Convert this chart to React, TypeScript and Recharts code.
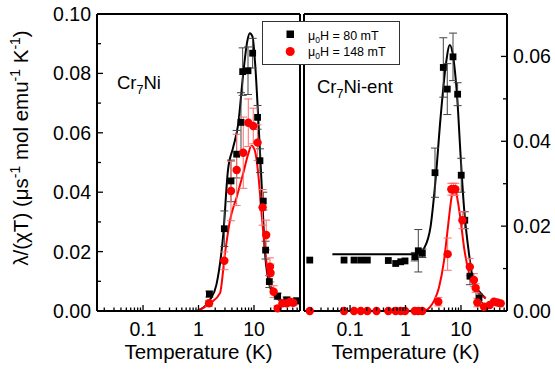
import React from 'react';
import { ComposedChart, Scatter, Line, XAxis, YAxis, ErrorBar } from 'recharts';

// ---------- axis ticks ----------
const xTicks = [0.02, 0.03, 0.04, 0.05, 0.06, 0.07, 0.08, 0.09, 0.1, 0.2, 0.3, 0.4, 0.5, 0.6, 0.7, 0.8, 0.9, 1, 2, 3, 4, 5, 6, 7, 8, 9, 10, 20, 30, 40, 50, 60];
const xLabels = [0.1, 1, 10];
const xDomain = [0.0148, 67.5];
const yTicksLeft = [0, 0.01, 0.02, 0.03, 0.04, 0.05, 0.06, 0.07, 0.08, 0.09, 0.1];
const yLabelsLeft = [0, 0.02, 0.04, 0.06, 0.08, 0.1];
const yTicksRight = [0, 0.01, 0.02, 0.03, 0.04, 0.05, 0.06, 0.07];
const yLabelsRight = [0, 0.02, 0.04, 0.06];

// ---------- Cr7Ni (left panel) ----------
const niT80 = [1.57, 2.92, 3.85, 4.87, 5.83, 6.25, 7.8, 9.46, 11.6, 12.8, 14.7, 16.2, 18.9, 26.7, 38.8, 59];
const niV80 = [0.0057, 0.0277, 0.0438, 0.0528, 0.0635, 0.0806, 0.0809, 0.0868, 0.0652, 0.0506, 0.037, 0.0205, 0.0099, 0.005, 0.0037, 0.0034];
const niE80 = [0.001, 0.006, 0.007, 0.008, 0.01, 0.008, 0.008, 0.005, 0.004, 0.004, 0.003, 0.003, 0.002, 0.001, 0.001, 0.001];

const niT148 = [1.55, 2.92, 3.85, 4.87, 6.4, 7.9, 9.7, 11.6, 14.3, 16.6, 19.4, 19.9, 22.6, 26.7, 32.6, 38.8, 44.6, 51];
const niV148 = [0.0026, 0.0169, 0.0404, 0.0475, 0.0533, 0.0634, 0.0623, 0.0567, 0.0349, 0.0256, 0.0149, 0.0128, 0.0065, 0.0009, 0.0026, 0.0026, 0.0031, 0.0028];
const niE148 = [0.001, 0.003, 0.01, 0.012, 0.012, 0.008, 0.006, 0.006, 0.006, 0.005, 0.003, 0.003, 0.002, 0.0009, 0.001, 0.001, 0.001, 0.001];

const niFitT80 = [0.95, 1.6, 2.1, 2.8, 3.4, 4.2, 5.2, 6.4, 7.6, 8.4, 9.4, 10.6, 11.9, 13.7, 15.8, 19.4, 25.7, 35];
const niFitV80 = [0, 0.0037, 0.0088, 0.026, 0.0475, 0.055, 0.063, 0.08, 0.091, 0.0935, 0.0924, 0.082, 0.0654, 0.043, 0.0195, 0.0082, 0.0043, 0.003];
const niFitT148 = [0.95, 1.6, 2.44, 3.0, 3.7, 4.9, 6.4, 7.9, 9.0, 10.3, 11.9, 13.7, 15.8, 19.4, 25.7, 33.6, 44];
const niFitV148 = [0, 0.0025, 0.006, 0.0194, 0.0306, 0.0385, 0.0464, 0.053, 0.0556, 0.0542, 0.0464, 0.0329, 0.0205, 0.0093, 0.0048, 0.0031, 0.0027];

// ---------- Cr7Ni-ent (right panel) ----------
const entT80 = [0.0188, 0.078, 0.118, 0.156, 0.205, 0.49, 0.665, 0.82, 0.98, 1.47, 1.7, 2.01, 3.4, 4.8, 5.66, 7.18, 8.7, 10.1, 11.7, 14.5, 21.1];
const entV80 = [0.012, 0.012, 0.012, 0.012, 0.012, 0.0119, 0.0112, 0.0116, 0.0118, 0.0128, 0.0142, 0.0136, 0.0326, 0.0574, 0.0523, 0.0599, 0.0511, 0.032, 0.0214, 0.0082, 0.003];
const entE80 = [0, 0, 0, 0, 0, 0, 0, 0, 0, 0.001, 0.005, 0.001, 0.0058, 0.007, 0.006, 0.0056, 0.0027, 0.004, 0.002, 0.002, 0.001];

const entT148 = [0.0188, 0.078, 0.118, 0.156, 0.205, 0.3, 0.49, 0.665, 0.82, 0.98, 1.47, 1.7, 2.0, 3.9, 5.75, 6.7, 7.3, 7.9, 10.6, 14.4, 17.1, 18.4, 19.7, 26, 32.9, 39.3, 45, 52];
const entV148 = [0, 0, 0, 0, 0, 0, 0, 0, 0, 0, 0, 0, 0, 0.0022, 0.0134, 0.0287, 0.0287, 0.0287, 0.0214, 0.0104, 0.0073, 0.0054, 0.002, 0.001, 0.0014, 0.0022, 0.002, 0.0018];
const entE148 = [0, 0, 0, 0, 0, 0, 0, 0, 0, 0, 0, 0, 0, 0.001, 0.0038, 0.0014, 0.0014, 0.0014, 0.002, 0.002, 0.0015, 0.001, 0.001, 0, 0, 0, 0, 0];

const entFitT80 = [0.048, 0.5, 1.64, 2.16, 2.83, 3.48, 4.3, 5.28, 6.3, 7.15, 8.6, 9.86, 11.3, 13.9, 17.1, 22.6, 27.8];
const entFitV80 = [0.0134, 0.0134, 0.0134, 0.0148, 0.0199, 0.0309, 0.0458, 0.0576, 0.0627, 0.0603, 0.0497, 0.0364, 0.0246, 0.0136, 0.0065, 0.0042, 0.003];
const entFitT148 = [0.02, 1.5, 2.3, 2.7, 3.3, 4.0, 4.9, 5.9, 6.7, 7.3, 8.0, 9.6, 11.5, 14, 18, 28];
const entFitV148 = [0, 0, 0.0001, 0.0008, 0.0025, 0.0055, 0.0115, 0.0205, 0.0265, 0.0289, 0.0283, 0.0225, 0.0145, 0.0089, 0.0055, 0.003];

const zip = (t: number[], v: number[], e?: number[]) =>
  t.map((x, i) => ({ x, y: v[i], err: e ? e[i] : 0 }));

const FONT = '"Liberation Sans", Arial, Helvetica, sans-serif';
const BLACK = '#000000';
const RED = '#ff0000';

// ---------- custom ticks (inward) ----------
const BottomTick = (p: any) => {
  const v = p.payload.value;
  const major = xLabels.includes(v);
  return (
    <g>
      <line x1={p.x} x2={p.x} y1={p.y} y2={p.y - (major ? 6 : 3.5)} stroke="#000" strokeWidth={1.3} />
      {major && (
        <text x={p.x} y={p.y + 25} textAnchor="middle" fontSize={19.5} fontFamily={FONT} fill="#000">
          {String(v)}
        </text>
      )}
    </g>
  );
};
const TopTick = (p: any) => {
  const v = p.payload.value;
  const major = xLabels.includes(v);
  return <line x1={p.x} x2={p.x} y1={p.y} y2={p.y + (major ? 6 : 3.5)} stroke="#000" strokeWidth={1.3} />;
};
const makeYTick = (side: 'left' | 'right', labels: number[], showText: boolean) => (p: any) => {
  const v = p.payload.value;
  const major = labels.includes(v);
  const dir = side === 'left' ? 1 : -1;
  return (
    <g>
      <line x1={p.x} x2={p.x + dir * (major ? 6 : 4)} y1={p.y} y2={p.y} stroke="#000" strokeWidth={1.3} />
      {showText && major && (
        <text
          x={p.x - dir * 6}
          y={p.y}
          dy="0.36em"
          textAnchor={side === 'left' ? 'end' : 'start'}
          fontSize={19.5}
          fontFamily={FONT}
          fill="#000"
        >
          {v.toFixed(2)}
        </text>
      )}
    </g>
  );
};

const Square = (p: any) => <rect x={p.cx - 3.4} y={p.cy - 3.4} width={6.8} height={6.8} fill={BLACK} />;
const Dot = (p: any) => <circle cx={p.cx} cy={p.cy} r={4.2} fill={RED} />;

const axisLine = { stroke: '#000', strokeWidth: 2 };

type Pt = { x: number; y: number; err: number };
type PanelProps = {
  width: number;
  leftW: number;
  rightW: number;
  yDomain: number[];
  yTicks: number[];
  yLabels: number[];
  labelsLeft: boolean;
  fit80: Pt[];
  fit148: Pt[];
  pts80: Pt[];
  pts148: Pt[];
};

const Panel = (pp: PanelProps) => {
  const yId = pp.labelsLeft ? 'L' : 'R';
  return (
    <ComposedChart width={pp.width} height={370} margin={{ top: 13, right: 0, bottom: 0, left: 0 }}>
      <XAxis
        xAxisId="b"
        dataKey="x"
        type="number"
        scale="log"
        domain={xDomain}
        ticks={xTicks}
        interval={0}
        tick={BottomTick}
        tickLine={false}
        tickSize={0}
        tickMargin={0}
        height={59}
        axisLine={axisLine}
      />
      <XAxis
        xAxisId="t"
        orientation="top"
        dataKey="x"
        type="number"
        scale="log"
        domain={xDomain}
        ticks={xTicks}
        interval={0}
        tick={TopTick}
        tickLine={false}
        tickSize={0}
        tickMargin={0}
        height={1}
        axisLine={axisLine}
      />
      <YAxis
        yAxisId="L"
        orientation="left"
        dataKey="y"
        type="number"
        domain={pp.yDomain}
        ticks={pp.yTicks}
        interval={0}
        tick={makeYTick('left', pp.yLabels, pp.labelsLeft)}
        tickLine={false}
        tickSize={0}
        tickMargin={0}
        width={pp.leftW}
        axisLine={axisLine}
      />
      <YAxis
        yAxisId="R"
        orientation="right"
        dataKey="y"
        type="number"
        domain={pp.yDomain}
        ticks={pp.yTicks}
        interval={0}
        tick={makeYTick('right', pp.yLabels, !pp.labelsLeft)}
        tickLine={false}
        tickSize={0}
        tickMargin={0}
        width={pp.rightW}
        axisLine={axisLine}
      />
      <Line xAxisId="b" yAxisId={yId} data={pp.fit80} dataKey="y" type="monotone" stroke={BLACK} strokeWidth={2} dot={false} isAnimationActive={false} />
      <Line xAxisId="b" yAxisId={yId} data={pp.fit148} dataKey="y" type="monotone" stroke={RED} strokeWidth={2} dot={false} isAnimationActive={false} />
      <Scatter xAxisId="b" yAxisId={yId} data={pp.pts80} shape={Square} isAnimationActive={false}>
        <ErrorBar dataKey="err" direction="y" width={4} stroke="#444" strokeWidth={1} />
      </Scatter>
      <Scatter xAxisId="b" yAxisId={yId} data={pp.pts148} shape={Dot} isAnimationActive={false}>
        <ErrorBar dataKey="err" direction="y" width={4} stroke="#ff6b6b" strokeWidth={1} />
      </Scatter>
    </ComposedChart>
  );
};

export default function App() {
  return (
    <div style={{ position: 'absolute', left: 0, top: 0, width: 555, height: 370, background: '#fff', fontFamily: FONT }}>
      <div style={{ position: 'absolute', left: 0, top: 0 }}>
        <Panel
          width={301}
          leftW={97}
          rightW={1}
          yDomain={[0, 0.1]}
          yTicks={yTicksLeft}
          yLabels={yLabelsLeft}
          labelsLeft={true}
          fit80={zip(niFitT80, niFitV80)}
          fit148={zip(niFitT148, niFitV148)}
          pts80={zip(niT80, niV80, niE80)}
          pts148={zip(niT148, niV148, niE148)}
        />
      </div>
      <div style={{ position: 'absolute', left: 303, top: 0 }}>
        <Panel
          width={252}
          leftW={1}
          rightW={48}
          yDomain={[0, 0.07]}
          yTicks={yTicksRight}
          yLabels={yLabelsRight}
          labelsLeft={false}
          fit80={zip(entFitT80, entFitV80)}
          fit148={zip(entFitT148, entFitV148)}
          pts80={zip(entT80, entV80, entE80)}
          pts148={zip(entT148, entV148, entE148)}
        />
      </div>
      <svg width={555} height={370} style={{ position: 'absolute', left: 0, top: 0, pointerEvents: 'none' }} fontFamily={FONT}>
        <text transform="translate(28,148) rotate(-90)" textAnchor="middle" fontSize={20.5} fill="#000">
          λ/(χT) (μs<tspan dy={-8} fontSize={14}>-1</tspan>
          <tspan dy={8}> mol emu</tspan>
          <tspan dy={-8} fontSize={14}>-1</tspan>
          <tspan dy={8}> K</tspan>
          <tspan dy={-8} fontSize={14}>-1</tspan>
          <tspan dy={8}>)</tspan>
        </text>
        <text x={198.5} y={359} textAnchor="middle" fontSize={20.5} fill="#000">Temperature (K)</text>
        <text x={405.5} y={359} textAnchor="middle" fontSize={20.5} fill="#000">Temperature (K)</text>
        <text x={117} y={89} fontSize={18.5} fill="#000">
          Cr<tspan dy={5} fontSize={12.5}>7</tspan>
          <tspan dy={-5}>Ni</tspan>
        </text>
        <text x={317} y={92.5} fontSize={18.5} fill="#000">
          Cr<tspan dy={5} fontSize={12.5}>7</tspan>
          <tspan dy={-5}>Ni-ent</tspan>
        </text>
        <rect x={262.5} y={21.5} width={137} height={43} fill="#fff" stroke="#333" strokeWidth={1} />
        <rect x={286.5} y={30.5} width={7.5} height={7.5} fill={BLACK} />
        <circle cx={290.2} cy={51.5} r={4.5} fill={RED} />
        <text x={308} y={39.5} fontSize={12.5} fill="#000">
          μ<tspan dy={3} fontSize={8.5}>0</tspan>
          <tspan dy={-3}>H = 80 mT</tspan>
        </text>
        <text x={308} y={56} fontSize={12.5} fill="#000">
          μ<tspan dy={3} fontSize={8.5}>0</tspan>
          <tspan dy={-3}>H = 148 mT</tspan>
        </text>
      </svg>
    </div>
  );
}
